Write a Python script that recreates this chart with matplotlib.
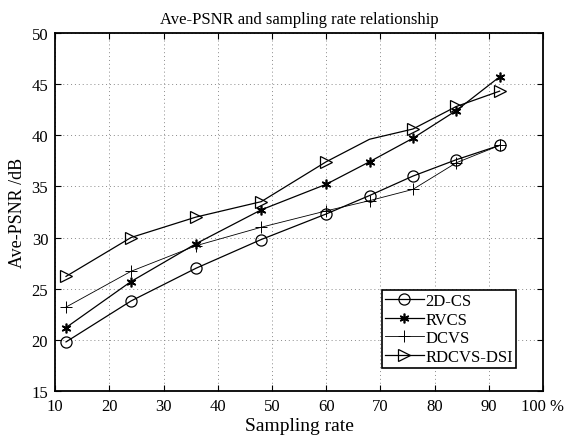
import matplotlib
matplotlib.use("Agg")
import matplotlib.pyplot as plt

plt.rcParams['font.family'] = ['Liberation Serif', 'DejaVu Serif']

rates = [12, 24, 36, 48, 60, 68, 76, 84, 92]
psnr_2dcs = [19.8, 23.8, 27.0, 29.8, 32.3, 34.1, 36.0, 37.6, 39.0]
psnr_rvcs = [21.2, 25.7, 29.4, 32.7, 35.2, 37.4, 39.7, 42.4, 45.7]
psnr_dcvs = [23.2, 26.7, 29.2, 31.0, 32.6, 33.6, 34.7, 37.3, 39.0]
psnr_rdcvs = [26.2, 30.0, 32.0, 33.5, 37.4, 39.6, 40.6, 42.8, 44.3]

xticks = [10, 20, 30, 40, 50, 60, 70, 80, 90, 100]
yticks = [15, 20, 25, 30, 35, 40, 45, 50]


fig = plt.figure(figsize=(5.87, 4.39), dpi=100)
ax = fig.add_axes([0.094, 0.107, 0.831, 0.816])

ax.plot(rates, psnr_2dcs, color="black", lw=0.9, marker="o", ms=8,
        mfc="none", mec="black", mew=0.9, label="2D-CS")
ax.plot(rates, psnr_rvcs, color="black", lw=0.9, marker=(6, 2, 0), ms=7,
        mec="black", mew=1.2, label="RVCS")
ax.plot(rates, psnr_dcvs, color="black", lw=0.6, marker="+", ms=9,
        mec="black", mew=0.7, label="DCVS")
# no marker was drawn at the 68% point of this series
ax.plot(rates, psnr_rdcvs, color="black", lw=0.9, marker=">", ms=9,
        mfc="none", mec="black", mew=0.9, label="RDCVS-DSI",
        markevery=[0, 1, 2, 3, 4, 6, 7, 8])

ax.set_xlim(10, 100)
ax.set_ylim(15, 50)
ax.set_xticks(xticks)
ax.set_yticks(yticks)
ax.set_xticklabels([str(t) for t in xticks[:-1]] + ["100 %"])
ax.tick_params(direction="in", top=True, right=True, labelsize=12,
               length=4, width=0.8, pad=5)
for s in ax.spines.values():
    s.set_linewidth(1.3)

ax.grid(True, linestyle=(0, (1, 3)), color="#8a8a8a", linewidth=0.7)

ax.set_title("Ave-PSNR and sampling rate relationship", fontsize=12, pad=7)
ax.set_xlabel("Sampling rate", fontsize=14, labelpad=2)
ax.set_ylabel("Ave-PSNR /dB", fontsize=13, labelpad=4)

leg = ax.legend(loc="lower right", bbox_to_anchor=(0.945, 0.064), fontsize=12,
                fancybox=False, framealpha=1, edgecolor="black",
                handlelength=2.3, handletextpad=0.1, borderpad=0.2,
                labelspacing=0.15, borderaxespad=0)
leg.get_frame().set_linewidth(1.2)

fig.savefig("out.png", dpi=100)
